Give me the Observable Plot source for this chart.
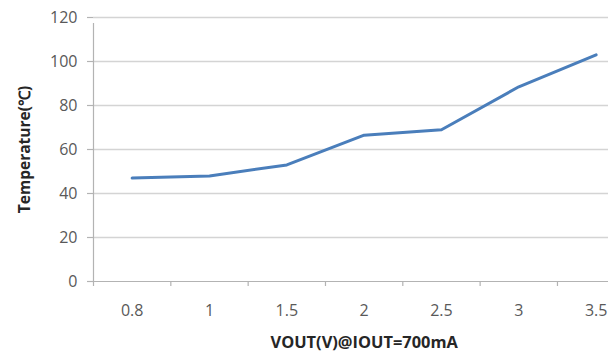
<!DOCTYPE html>
<html>
<head>
<meta charset="utf-8">
<script src="https://cdn.jsdelivr.net/npm/d3@7"></script>
<script src="https://cdn.jsdelivr.net/npm/@observablehq/plot@0.6"></script>
<style>
  html, body { margin: 0; padding: 0; background: #fff; }
  svg { display: block; }
</style>
</head>
<body>
<div id="chart"></div>
<script>
const xLabels = ["0.8", "1", "1.5", "2", "2.5", "3", "3.5"];
const temperatures = [47, 48, 53, 66.5, 69, 88.5, 103];
const yTicks = [0, 20, 40, 60, 80, 100, 120];
const xTitle = "VOUT(V)@IOUT=700mA";
const yTitle = "Temperature(℃)";

const xIndex = xLabels.map((_, i) => i);
const tickBounds = xLabels.map((_, i) => i - 0.5);
const data = xLabels.map((label, i) => ({i, label, t: temperatures[i]}));

const chart = Plot.plot({
  width: 615,
  height: 353,
  marginLeft: 93,
  marginRight: 7,
  marginTop: 17,
  marginBottom: 72,
  style: {fontFamily: "'Open Sans', sans-serif", background: "#fff"},
  x: {domain: [-0.5, 6.16]},
  y: {domain: [0, 120]},
  marks: [
    Plot.ruleY(yTicks.filter(d => d > 0), {stroke: "#d4d4d4", strokeWidth: 1.3}),
    Plot.ruleY([0], {stroke: "#b3b3b3", strokeWidth: 1.2}),
    Plot.ruleX([-0.5], {y1: 0, y2: 120, insetBottom: -6, stroke: "#b3b3b3", strokeWidth: 1.2}),
    Plot.axisY(yTicks, {tickSize: 6, tickPadding: 10, stroke: "#b3b3b3", strokeWidth: 1.2, fill: "#595959", fontSize: 16, label: null}),
    Plot.axisX(tickBounds, {tickSize: 5, tickFormat: () => "", stroke: "#b3b3b3", strokeWidth: 1.2, label: null}),
    Plot.axisX(xIndex, {tickSize: 0, tickPadding: 23, tickFormat: i => xLabels[i], fill: "#595959", fontSize: 16, label: null}),
    Plot.line(data, {x: "i", y: "t", stroke: "#4a7ebb", strokeWidth: 3, strokeLinejoin: "round", strokeLinecap: "round"}),
    Plot.text([xTitle], {x: 3, frameAnchor: "bottom", dy: 66, fontSize: 16.4, fontWeight: "bold", fill: "#262626"}),
    Plot.text([yTitle], {frameAnchor: "left", textAnchor: "middle", dx: -68, rotate: -90, fontSize: 15.5, fontWeight: "bold", fill: "#262626"})
  ]
});
document.getElementById("chart").appendChild(chart);
</script>
</body>
</html>
